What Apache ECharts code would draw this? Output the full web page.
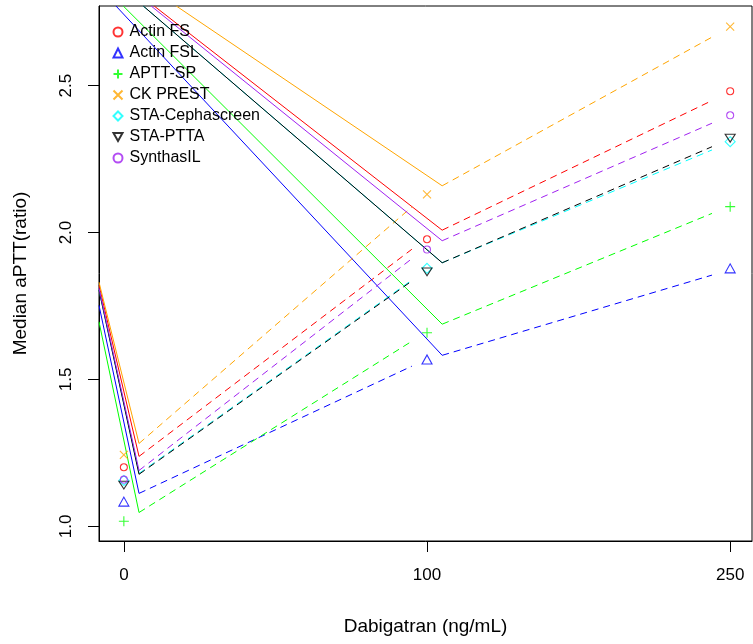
<!DOCTYPE html>
<html>
<head>
<meta charset="utf-8">
<script src="https://cdn.jsdelivr.net/npm/echarts@6/dist/echarts.min.js"></script>
<style>
    html, body { margin: 0; padding: 0; background: #fff; }
    #chartmain { width: 753px; height: 644px; }
</style>
</head>
<body>
<div id="chartmain"></div>
<script>
var categories = ['0', '100', '250'];
var reagents = ['Actin FS', 'Actin FSL', 'APTT-SP', 'CK PREST', 'STA-Cephascreen', 'STA-PTTA', 'SynthasIL'];
var colors = ['#FF0000', '#0000FF', '#00FF00', '#FFA500', '#00FFFF', '#000000', '#A020F0'];
var yTicks = [1.0, 1.5, 2.0, 2.5];

// 各试剂中位数 (点)
var median0 = [1.201, 1.084, 1.017, 1.243, 1.156, 1.140, 1.159];
var median100 = [1.977, 1.568, 1.659, 2.130, 1.878, 1.866, 1.942];
var median250 = [2.481, 1.878, 2.088, 2.701, 2.309, 2.321, 2.399];

// 下段实线: 左边框处的值 -> 0 旁边的值
var lowStart = [1.821, 1.752, 1.696, 1.831, 1.804, 1.804, 1.810];
var lowEnd = [1.238, 1.112, 1.047, 1.282, 1.180, 1.177, 1.190];
// 下段虚线终点 (100 左侧)
var lowDashEnd = [1.943, 1.545, 1.630, 2.087, 1.838, 1.835, 1.911];
// 上段实线: 顶边处的 x -> 100 旁边的值
var highStartX = [0.100, -0.026, -0.002, 0.173, 0.064, 0.064, 0.090];
var highEnd = [2.008, 1.582, 1.688, 2.159, 1.897, 1.897, 1.972];
// 上段虚线终点 (250 左侧)
var highDashEnd = [2.449, 1.855, 2.065, 2.665, 2.281, 2.292, 2.372];

var xMin = -0.082, xMax = 2.072, yMin = 0.95, yMax = 2.771;
var fontName = 'Liberation Sans, Arial, sans-serif';

var plusPath = 'path://M5,0L5,10M0,5L10,5';
var crossPath = 'path://M0,0L10,10M10,0L0,10';
var downTriPath = 'path://M0,0L10,0L5,8.66Z';
var symbols = ['circle', 'triangle', plusPath, crossPath, 'diamond', downTriPath, 'circle'];
var symbolSizes = [[7, 7], [10, 9], [10, 10], [8, 8], [10, 10], [10, 9], [7, 7]];

function lineSeries(name, color, data, dashed) {
    return {
        name: name,
        type: 'line',
        data: data,
        showSymbol: false,
        symbol: 'none',
        silent: true,
        clip: true,
        lineStyle: { color: color, width: 1, type: dashed ? [7, 5] : 'solid' },
        z: 3
    };
}

var series = [];
var legendData = [];
for (let i = 0; i < reagents.length; i++) {
    series.push(lineSeries('ls' + i, colors[i], [[xMin, lowStart[i]], [0.05, lowEnd[i]]], false));
    series.push(lineSeries('ld' + i, colors[i], [[0.05, lowEnd[i]], [0.95, lowDashEnd[i]]], true));
    series.push(lineSeries('hs' + i, colors[i], [[highStartX[i], yMax], [1.05, highEnd[i]]], false));
    series.push(lineSeries('hd' + i, colors[i], [[1.05, highEnd[i]], [1.94, highDashEnd[i]]], true));
}
for (let i = 0; i < reagents.length; i++) {
    series.push({
        name: reagents[i],
        type: 'scatter',
        data: [[0, median0[i]], [1, median100[i]], [2, median250[i]]],
        symbol: symbols[i],
        symbolSize: symbolSizes[i],
        symbolKeepAspect: true,
        itemStyle: { color: 'none', borderColor: colors[i], borderWidth: 1.1 },
        emphasis: { disabled: true },
        z: 4
    });
    legendData.push({ name: reagents[i], icon: symbols[i] });
}

var myChart = echarts.init(document.getElementById('chartmain'));
var option = {
    animation: false,
    backgroundColor: '#fff',
    textStyle: { fontFamily: fontName },
    grid: {
        left: 99, top: 6, right: 1, bottom: 103,
        show: true, borderColor: '#000', borderWidth: 1, backgroundColor: 'transparent'
    },
    legend: {
        orient: 'vertical',
        left: 106,
        top: 19,
        itemWidth: 9,
        itemHeight: 9,
        itemGap: 5,
        data: legendData,
        textStyle: { fontFamily: fontName, fontSize: 16, color: '#000', lineHeight: 16, padding: [0, 0, 0, 2] }
    },
    xAxis: {
        type: 'value',
        min: xMin,
        max: xMax,
        name: 'Dabigatran (ng/mL)',
        nameLocation: 'middle',
        nameGap: 76,
        nameTextStyle: { fontFamily: fontName, fontSize: 19, color: '#000' },
        axisLine: { show: true, onZero: false, lineStyle: { color: '#000' } },
        splitLine: { show: false },
        axisTick: { show: true, length: 11, customValues: [0, 1, 2], lineStyle: { color: '#000' } },
        axisLabel: {
            customValues: [0, 1, 2],
            margin: 26,
            fontSize: 17,
            color: '#000',
            fontFamily: fontName,
            formatter: function (v) { return categories[Math.round(v)]; }
        }
    },
    yAxis: {
        type: 'value',
        min: yMin,
        max: yMax,
        name: 'Median aPTT(ratio)',
        nameLocation: 'middle',
        nameGap: 69,
        nameRotate: 90,
        nameTextStyle: { fontFamily: fontName, fontSize: 19, color: '#000' },
        axisLine: { show: true, onZero: false, lineStyle: { color: '#000' } },
        splitLine: { show: false },
        axisTick: { show: true, length: 11, customValues: yTicks, lineStyle: { color: '#000' } },
        axisLabel: {
            customValues: yTicks,
            rotate: 90,
            margin: 24,
            fontSize: 17,
            color: '#000',
            fontFamily: fontName,
            formatter: function (v) { return v.toFixed(1); }
        }
    },
    series: series
};
myChart.setOption(option);
</script>
</body>
</html>
